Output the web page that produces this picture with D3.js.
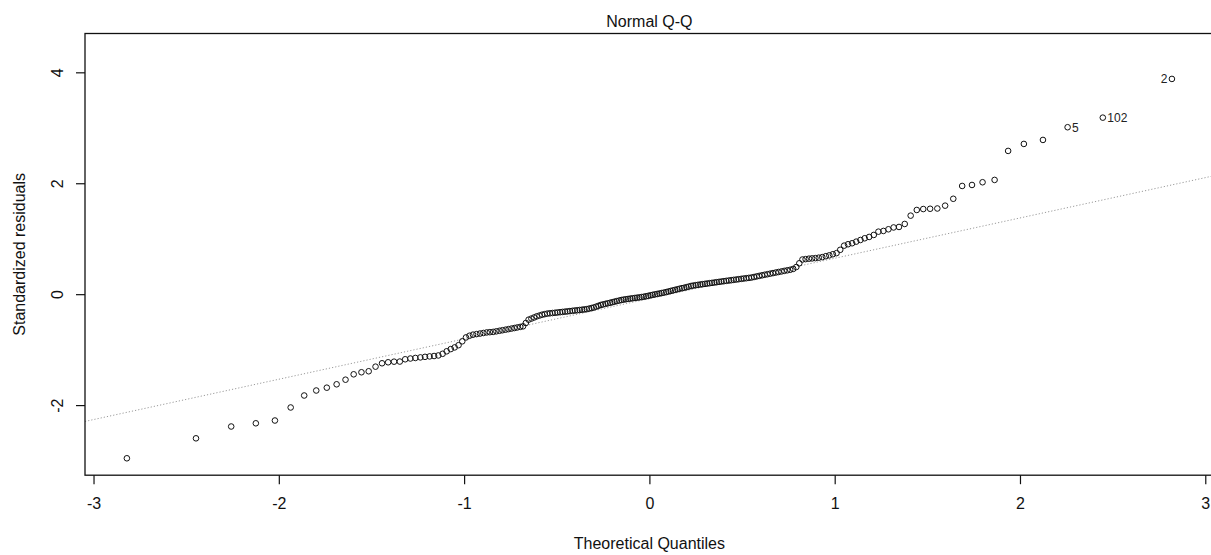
<!DOCTYPE html>
<html><head><meta charset="utf-8">
<script src="https://cdn.jsdelivr.net/npm/d3@7"></script>
<style>
html,body{margin:0;padding:0;background:#fff;}
svg{display:block;font-family:"Liberation Sans",Arial,sans-serif;}
</style>
</head><body>
<svg id="chart" width="1211" height="555"></svg>
<script>
// ---- data ----
const chartTitle = "Normal Q-Q";
const xAxisTitle = "Theoretical Quantiles";
const yAxisTitle = "Standardized residuals";
const xTicks = [-3, -2, -1, 0, 1, 2, 3];
const yTicks = [-2, 0, 2, 4];
const xDomain = [-3.046, 3.046];
const yDomain = [-3.264, 4.70];

const theoreticalQuantiles = [
-2.820,-2.447,-2.257,-2.124,-2.021,-1.936,-1.863,-1.798,-1.741,-1.688,
-1.640,-1.596,-1.554,-1.515,-1.478,-1.443,-1.410,-1.378,-1.347,-1.318,
-1.290,-1.263,-1.236,-1.211,-1.186,-1.162,-1.139,-1.116,-1.094,-1.072,
-1.051,-1.030,-1.010,-0.990,-0.971,-0.952,-0.933,-0.914,-0.896,-0.878,
-0.861,-0.843,-0.826,-0.809,-0.793,-0.776,-0.760,-0.744,-0.728,-0.713,
-0.697,-0.682,-0.667,-0.652,-0.637,-0.622,-0.608,-0.593,-0.579,-0.565,
-0.551,-0.537,-0.523,-0.509,-0.496,-0.482,-0.469,-0.455,-0.442,-0.429,
-0.415,-0.402,-0.389,-0.376,-0.363,-0.351,-0.338,-0.325,-0.312,-0.300,
-0.287,-0.275,-0.262,-0.250,-0.237,-0.225,-0.212,-0.200,-0.188,-0.176,
-0.163,-0.151,-0.139,-0.127,-0.115,-0.103,-0.091,-0.078,-0.066,-0.054,
-0.042,-0.030,-0.018,-0.006,
0.006,0.018,0.030,0.042,0.054,0.066,
0.078,0.091,0.103,0.115,0.127,0.139,0.151,0.163,0.176,0.188,
0.200,0.212,0.225,0.237,0.250,0.262,0.275,0.287,0.300,0.312,
0.325,0.338,0.351,0.363,0.376,0.389,0.402,0.415,0.429,0.442,
0.455,0.469,0.482,0.496,0.509,0.523,0.537,0.551,0.565,0.579,
0.593,0.608,0.622,0.637,0.652,0.667,0.682,0.697,0.713,0.728,
0.744,0.760,0.776,0.793,0.809,0.826,0.843,0.861,0.878,0.896,
0.914,0.933,0.952,0.971,0.990,1.010,1.030,1.051,1.072,1.094,
1.116,1.139,1.162,1.186,1.211,1.236,1.263,1.290,1.318,1.347,
1.378,1.410,1.443,1.478,1.515,1.554,1.596,1.640,1.688,1.741,
1.798,1.863,1.936,2.021,2.124,2.257,2.447,2.820
];

const standardizedResiduals = [
-2.959,-2.599,-2.386,-2.328,-2.278,-2.043,-1.827,-1.737,-1.686,-1.625,
-1.542,-1.445,-1.408,-1.390,-1.307,-1.246,-1.228,-1.217,-1.215,-1.174,
-1.160,-1.150,-1.140,-1.130,-1.122,-1.115,-1.105,-1.075,-1.030,-0.990,
-0.960,-0.920,-0.850,-0.780,-0.750,-0.730,-0.720,-0.710,-0.700,-0.690,
-0.685,-0.680,-0.670,-0.660,-0.650,-0.640,-0.630,-0.620,-0.610,-0.600,
-0.590,-0.580,-0.520,-0.460,-0.440,-0.420,-0.400,-0.385,-0.370,-0.360,
-0.350,-0.345,-0.340,-0.335,-0.330,-0.325,-0.320,-0.315,-0.310,-0.305,
-0.300,-0.295,-0.290,-0.285,-0.280,-0.275,-0.270,-0.260,-0.250,-0.240,
-0.225,-0.210,-0.195,-0.185,-0.175,-0.165,-0.155,-0.145,-0.135,-0.125,
-0.115,-0.105,-0.098,-0.092,-0.086,-0.080,-0.074,-0.068,-0.063,-0.058,
-0.052,-0.046,-0.038,-0.030,-0.020,-0.012,-0.004,0.004,0.012,0.020,
0.028,0.038,0.048,0.058,0.068,0.078,0.088,0.098,0.108,0.116,
0.126,0.136,0.148,0.155,0.162,0.168,0.175,0.180,0.186,0.192,
0.198,0.204,0.210,0.216,0.222,0.228,0.234,0.240,0.246,0.252,
0.258,0.264,0.270,0.276,0.282,0.288,0.294,0.300,0.310,0.320,
0.330,0.340,0.350,0.360,0.370,0.380,0.390,0.400,0.410,0.420,
0.430,0.440,0.455,0.490,0.557,0.625,0.632,0.640,0.645,0.650,
0.658,0.668,0.685,0.700,0.720,0.740,0.800,0.875,0.900,0.918,
0.947,0.977,1.008,1.032,1.068,1.127,1.140,1.170,1.203,1.212,
1.266,1.416,1.518,1.535,1.540,1.545,1.596,1.720,1.951,1.969,
2.018,2.060,2.583,2.709,2.781,3.010,3.183,3.881
];

// reference line (qqline)
const qqLineIntercept = -0.08;
const qqLineSlope = 0.727;

// labelled extreme observations
const idLabels = ["5", "102", "2"];
const idIndex = [205, 206, 207];
const idSide = ["right", "right", "left"];

// ---- layout ----
const W = 1211, H = 555;
const plot = {left: 85, right: 1213.8, top: 33.5, bottom: 475.2};
const FONT = 16;

const svg = d3.select("#chart");
svg.append("rect").attr("width", W).attr("height", H).attr("fill", "#fff");

const x = d3.scaleLinear().domain(xDomain).range([plot.left, plot.right]);
const y = d3.scaleLinear().domain(yDomain).range([plot.bottom, plot.top]);

svg.append("defs").append("clipPath").attr("id", "plotclip")
  .append("rect")
  .attr("x", plot.left).attr("y", plot.top)
  .attr("width", plot.right - plot.left).attr("height", plot.bottom - plot.top);

const pts = d3.zip(theoreticalQuantiles, standardizedResiduals);

// qqline
const g = svg.append("g").attr("clip-path", "url(#plotclip)");
g.append("line")
  .attr("x1", x(xDomain[0])).attr("y1", y(qqLineIntercept + qqLineSlope * xDomain[0]))
  .attr("x2", x(xDomain[1])).attr("y2", y(qqLineIntercept + qqLineSlope * xDomain[1]))
  .attr("stroke", "#9a9a9a").attr("stroke-width", 1)
  .attr("stroke-dasharray", "1.2,2");

// points
svg.append("g").selectAll("circle").data(pts).join("circle")
  .attr("cx", d => x(d[0])).attr("cy", d => y(d[1]))
  .attr("r", 2.8)
  .attr("fill", "none").attr("stroke", "#111").attr("stroke-width", 1);

// box
svg.append("rect")
  .attr("x", plot.left).attr("y", plot.top)
  .attr("width", plot.right - plot.left).attr("height", plot.bottom - plot.top)
  .attr("fill", "none").attr("stroke", "#111").attr("stroke-width", 1.3);

// x axis
const xAxis = d3.axisBottom(x).tickValues(xTicks).tickSize(9).tickPadding(10)
  .tickFormat(d3.format("d"));
const gx = svg.append("g").attr("transform", `translate(0,${plot.bottom})`).call(xAxis);
gx.select(".domain").remove();
gx.selectAll(".tick line").attr("stroke", "#111").attr("stroke-width", 1.2);
gx.selectAll(".tick text")
  .attr("font-size", FONT).attr("font-family", "Liberation Sans, Arial, sans-serif")
  .attr("fill", "#111").attr("dy", null).attr("y", 34)
  .text(d => String(d).replace("\u2212", "-"));

// y axis
const yAxis = d3.axisLeft(y).tickValues(yTicks).tickSize(9).tickFormat(d3.format("d"));
const gy = svg.append("g").attr("transform", `translate(${plot.left},0)`).call(yAxis);
gy.select(".domain").remove();
gy.selectAll(".tick line").attr("stroke", "#111").attr("stroke-width", 1.2);
gy.selectAll(".tick text")
  .attr("font-size", FONT).attr("font-family", "Liberation Sans, Arial, sans-serif")
  .attr("fill", "#111")
  .attr("x", null).attr("dy", null)
  .attr("text-anchor", "middle")
  .attr("transform", "translate(-22.5,0) rotate(-90)")
  .attr("y", 0)
  .text(d => String(d).replace("\u2212", "-"));

// labels on extreme points
svg.append("g").selectAll("text").data(idIndex).join("text")
  .attr("x", (d, i) => x(theoreticalQuantiles[d]) + (idSide[i] === "left" ? -4.5 : 4.5))
  .attr("y", d => y(standardizedResiduals[d]))
  .attr("dy", "0.36em")
  .attr("text-anchor", (d, i) => idSide[i] === "left" ? "end" : "start")
  .attr("font-size", 12).attr("fill", "#222")
  .text((d, i) => idLabels[i]);

// titles
svg.append("text")
  .attr("x", (plot.left + plot.right) / 2).attr("y", 26.5)
  .attr("text-anchor", "middle").attr("font-size", FONT).attr("fill", "#111")
  .text(chartTitle);

svg.append("text")
  .attr("x", (plot.left + plot.right) / 2).attr("y", 549)
  .attr("text-anchor", "middle").attr("font-size", FONT).attr("fill", "#111")
  .text(xAxisTitle);

svg.append("text")
  .attr("transform", `translate(25,${(plot.top + plot.bottom) / 2}) rotate(-90)`)
  .attr("text-anchor", "middle").attr("font-size", FONT).attr("fill", "#111")
  .text(yAxisTitle);
</script></body></html>
